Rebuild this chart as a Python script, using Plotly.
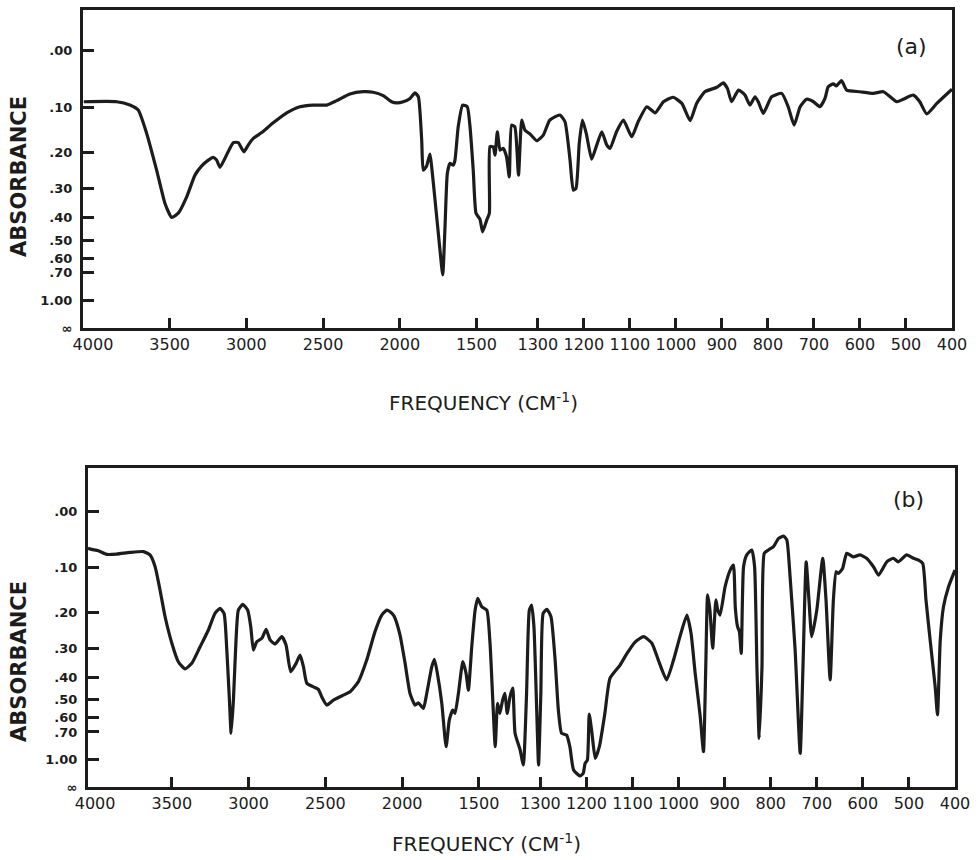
import numpy as np
import plotly.graph_objects as go

# ---- Spectrum (a): wavenumber (cm-1) and fraction of light transmitted ----
freq_a = [4060, 3845, 3759, 3705, 3650, 3585, 3531, 3487, 3444, 3389, 3335, 3291,
          3248, 3216, 3194, 3172, 3140, 3085, 3053, 3016, 2988, 2955, 2900, 2825,
          2737, 2651, 2564, 2477, 2411, 2325, 2238, 2173, 2108, 2053, 2020, 1977,
          1933, 1901, 1879, 1857, 1847, 1825, 1803, 1792, 1770, 1738, 1720, 1705,
          1690, 1673, 1651, 1640, 1619, 1590, 1560, 1542, 1521, 1503, 1477, 1460,
          1433, 1416, 1412, 1397, 1393, 1388, 1382, 1375, 1368, 1362, 1357, 1350,
          1342, 1335, 1328, 1317, 1302, 1288, 1274, 1252, 1241, 1230, 1223, 1217,
          1210, 1203, 1194, 1183, 1172, 1161, 1150, 1143, 1129, 1114, 1096, 1082,
          1063, 1045, 1027, 1006, 987, 969, 955, 937, 911, 897, 888, 879,
          864, 850, 839, 828, 821, 810, 792, 770, 756, 743, 730, 716,
          701, 687, 676, 669, 658, 651, 640, 629, 600, 571, 549, 520,
          506, 484, 470, 455, 433, 400]
trans_a = [0.814, 0.814, 0.802, 0.784, 0.700, 0.568, 0.449, 0.398, 0.413, 0.472, 0.550, 0.583,
           0.604, 0.614, 0.604, 0.578, 0.610, 0.667, 0.667, 0.634, 0.658, 0.682, 0.703, 0.738,
           0.774, 0.796, 0.802, 0.802, 0.818, 0.842, 0.850, 0.848, 0.836, 0.814, 0.810, 0.814,
           0.826, 0.846, 0.832, 0.676, 0.568, 0.583, 0.626, 0.580, 0.460, 0.281, 0.191, 0.364,
           0.556, 0.592, 0.586, 0.604, 0.724, 0.802, 0.796, 0.724, 0.568, 0.413, 0.391, 0.346,
           0.388, 0.413, 0.652, 0.652, 0.622, 0.706, 0.640, 0.646, 0.616, 0.544, 0.730, 0.724,
           0.550, 0.748, 0.712, 0.698, 0.674, 0.694, 0.748, 0.766, 0.742, 0.604, 0.496, 0.503,
           0.664, 0.748, 0.694, 0.607, 0.658, 0.706, 0.658, 0.646, 0.706, 0.748, 0.688, 0.742,
           0.796, 0.774, 0.814, 0.830, 0.808, 0.746, 0.808, 0.850, 0.866, 0.882, 0.862, 0.814,
           0.856, 0.838, 0.802, 0.832, 0.814, 0.772, 0.832, 0.844, 0.796, 0.730, 0.796, 0.823,
           0.814, 0.796, 0.826, 0.868, 0.878, 0.871, 0.890, 0.856, 0.850, 0.844, 0.850, 0.814,
           0.823, 0.838, 0.814, 0.770, 0.808, 0.859]

# ---- Spectrum (b) ----
freq_b = [4046, 4021, 3978, 3924, 3859, 3772, 3685, 3642, 3609, 3577, 3544, 3500,
          3458, 3414, 3370, 3316, 3262, 3219, 3186, 3160, 3142, 3125, 3114, 3099,
          3082, 3067, 3038, 3006, 2986, 2969, 2947, 2914, 2886, 2860, 2828, 2784,
          2756, 2726, 2691, 2665, 2643, 2621, 2578, 2546, 2524, 2491, 2448, 2383,
          2339, 2285, 2231, 2177, 2133, 2100, 2079, 2057, 2046, 2014, 1981, 1949,
          1916, 1895, 1862, 1840, 1807, 1790, 1771, 1742, 1714, 1693, 1671, 1656,
          1634, 1605, 1584, 1569, 1547, 1525, 1508, 1482, 1449, 1428, 1410, 1398,
          1393, 1388, 1382, 1377, 1372, 1366, 1360, 1355, 1344, 1337, 1330, 1324,
          1319, 1314, 1308, 1304, 1299, 1294, 1286, 1277, 1268, 1261, 1254, 1243,
          1236, 1228, 1214, 1207, 1203, 1198, 1194, 1188, 1181, 1172, 1160, 1149,
          1127, 1112, 1094, 1076, 1058, 1044, 1026, 1011, 997, 982, 973, 964,
          953, 946, 941, 937, 932, 926, 919, 915, 910, 899, 888, 881,
          877, 872, 868, 864, 859, 852, 841, 835, 830, 825, 819, 814,
          805, 794, 783, 772, 765, 758, 747, 736, 730, 723, 717, 711,
          700, 687, 680, 671, 664, 658, 653, 644, 635, 621, 606, 592,
          577, 566, 548, 534, 523, 505, 490, 479, 470, 463, 454, 443,
          438, 432, 425, 414, 400]
trans_b = [0.865, 0.861, 0.856, 0.843, 0.844, 0.850, 0.853, 0.841, 0.798, 0.714, 0.617, 0.521,
           0.454, 0.428, 0.448, 0.508, 0.569, 0.629, 0.647, 0.629, 0.496, 0.315, 0.195, 0.315,
           0.533, 0.641, 0.662, 0.641, 0.581, 0.496, 0.526, 0.539, 0.571, 0.533, 0.518, 0.545,
           0.514, 0.418, 0.448, 0.478, 0.436, 0.376, 0.363, 0.354, 0.327, 0.297, 0.315, 0.333,
           0.345, 0.382, 0.460, 0.563, 0.623, 0.641, 0.635, 0.623, 0.611, 0.550, 0.448, 0.339,
           0.297, 0.305, 0.285, 0.339, 0.436, 0.463, 0.412, 0.303, 0.146, 0.243, 0.279, 0.267,
           0.339, 0.454, 0.412, 0.351, 0.508, 0.641, 0.684, 0.653, 0.641, 0.521, 0.315, 0.146,
           0.303, 0.267, 0.315, 0.339, 0.267, 0.327, 0.358, 0.195, 0.134, 0.080, 0.339, 0.641,
           0.659, 0.581, 0.279, 0.080, 0.339, 0.629, 0.644, 0.617, 0.460, 0.279, 0.195, 0.188,
           0.146, 0.062, 0.040, 0.050, 0.086, 0.098, 0.264, 0.195, 0.104, 0.146, 0.267, 0.394,
           0.442, 0.484, 0.526, 0.545, 0.521, 0.460, 0.388, 0.460, 0.545, 0.623, 0.557, 0.412,
           0.255, 0.128, 0.436, 0.696, 0.641, 0.503, 0.678, 0.641, 0.623, 0.726, 0.786, 0.804,
           0.653, 0.581, 0.563, 0.484, 0.798, 0.841, 0.859, 0.798, 0.436, 0.176, 0.436, 0.847,
           0.859, 0.871, 0.901, 0.909, 0.895, 0.762, 0.496, 0.122, 0.436, 0.816, 0.678, 0.545,
           0.641, 0.829, 0.678, 0.388, 0.678, 0.780, 0.774, 0.792, 0.847, 0.834, 0.841, 0.829,
           0.798, 0.768, 0.816, 0.829, 0.816, 0.841, 0.829, 0.822, 0.810, 0.678, 0.533, 0.363,
           0.261, 0.533, 0.653, 0.726, 0.786]

# ---- Axis labelling ----
freq_labels = [4000, 3500, 3000, 2500, 2000, 1500, 1300, 1200, 1100, 1000,
               900, 800, 700, 600, 500, 400]
freq_tick_marks = [3500, 3000, 2500, 2000, 1500, 1300, 1200, 1100, 1000,
                   900, 800, 700, 600, 500]
absorbance_ticks = [0.0, 0.1, 0.2, 0.3, 0.4, 0.5, 0.6, 0.7, 1.0]
absorbance_labels = [".00", ".10", ".20", ".30", ".40", ".50", ".60", ".70", "1.00"]

INK = "#1c1c1c"
W, H = 979, 860


def freq_to_pos(nu):
    """Chart abscissa: below 1400 cm-1 the scale is expanded three-fold."""
    nu = np.asarray(nu, dtype=float)
    return np.where(nu >= 1400, 4000 - nu, 2600 + 3 * (1400 - nu))


def px_x(p):
    return p / W


def px_y(p):
    return 1 - p / H


y_tickvals = [10 ** (-a) for a in absorbance_ticks] + [0.0]
y_ticktext = absorbance_labels + ["\u221e"]

fig = go.Figure()
line_style = dict(color=INK, width=3.2, shape="spline", smoothing=0.5)
fig.add_trace(go.Scatter(x=freq_to_pos(freq_a), y=trans_a, mode="lines",
                         line=line_style, xaxis="x", yaxis="y",
                         showlegend=False, hoverinfo="skip"))
fig.add_trace(go.Scatter(x=freq_to_pos(freq_b), y=trans_b, mode="lines",
                         line=line_style, xaxis="x2", yaxis="y2",
                         showlegend=False, hoverinfo="skip"))
# empty traces so that the label-only frequency axes are laid out
fig.add_trace(go.Scatter(x=[0], y=[None], mode="lines", xaxis="x3", yaxis="y",
                         showlegend=False, hoverinfo="skip"))
fig.add_trace(go.Scatter(x=[0], y=[None], mode="lines", xaxis="x4", yaxis="y2",
                         showlegend=False, hoverinfo="skip"))


def x_marks_axis(domain, rng, anchor):
    """Frame line and inward tick marks of a frequency axis."""
    return dict(
        domain=domain, range=rng, anchor=anchor, automargin=False,
        showline=True, linewidth=3, linecolor=INK, mirror=True,
        showgrid=False, zeroline=False,
        tickmode="array", tickvals=list(freq_to_pos(freq_tick_marks)),
        ticks="inside", ticklen=10, tickwidth=2.5, tickcolor=INK,
        showticklabels=False,
    )


def x_label_axis(domain, rng, anchor, over):
    """Numbers along a frequency axis (4000 ... 400)."""
    return dict(
        domain=domain, range=rng, anchor=anchor, overlaying=over, side="bottom",
        automargin=False,
        showline=False, showgrid=False, zeroline=False,
        tickmode="array", tickvals=list(freq_to_pos(freq_labels)),
        ticktext=[str(v) for v in freq_labels], ticks="", tickangle=0,
        tickfont=dict(family="DejaVu Sans", size=16, color=INK),
        ticklabelstandoff=5,
    )


def y_axis(domain, top, anchor):
    return dict(
        domain=domain, range=[0, top], anchor=anchor, automargin=False,
        showline=True, linewidth=3, linecolor=INK, mirror=True,
        showgrid=False, zeroline=False,
        tickmode="array", tickvals=y_tickvals, ticktext=y_ticktext,
        ticks="inside", ticklen=11, tickwidth=3, tickcolor=INK,
        tickfont=dict(family="DejaVu Sans", size=13, color=INK, weight="bold"),
        ticklabelstandoff=5,
    )


dom_a = [px_x(83), px_x(952)]
dom_b = [px_x(88), px_x(955)]
rng_a = [-65, 5600]
rng_b = [-46, 5600]

fig.update_layout(
    template="none",
    width=W, height=H,
    margin=dict(l=0, r=0, t=0, b=0, autoexpand=False),
    paper_bgcolor="white", plot_bgcolor="white",
    xaxis=x_marks_axis(dom_a, rng_a, "y"),
    yaxis=y_axis([px_y(328), px_y(10)], 1.144, "x"),
    xaxis2=x_marks_axis(dom_b, rng_b, "y2"),
    yaxis2=y_axis([px_y(787), px_y(468)], 1.156, "x2"),
    xaxis3=x_label_axis(dom_a, rng_a, "y", "x"),
    xaxis4=x_label_axis(dom_b, rng_b, "y2", "x2"),
)

annotations = []
for label, ycen in (("ABSORBANCE", 177), ("ABSORBANCE", 662)):
    annotations.append(dict(text=label, xref="paper", yref="paper",
                            x=px_x(19), y=px_y(ycen), textangle=-90,
                            showarrow=False, xanchor="center", yanchor="middle",
                            font=dict(family="DejaVu Sans", size=21, color=INK,
                                      weight="bold")))
for xc, yc in ((483, 402), (486, 843)):
    annotations.append(dict(text="FREQUENCY (CM<sup>-1</sup>)", xref="paper", yref="paper",
                            x=px_x(xc), y=px_y(yc), showarrow=False,
                            xanchor="center", yanchor="middle",
                            font=dict(family="DejaVu Sans", size=20, color=INK)))
for tag, xc, yc in (("(a)", 911, 46), ("(b)", 908, 499)):
    annotations.append(dict(text=tag, xref="paper", yref="paper",
                            x=px_x(xc), y=px_y(yc), showarrow=False,
                            xanchor="center", yanchor="middle",
                            font=dict(family="DejaVu Sans", size=22, color=INK)))
fig.update_layout(annotations=annotations)

fig.write_html("out.html")
